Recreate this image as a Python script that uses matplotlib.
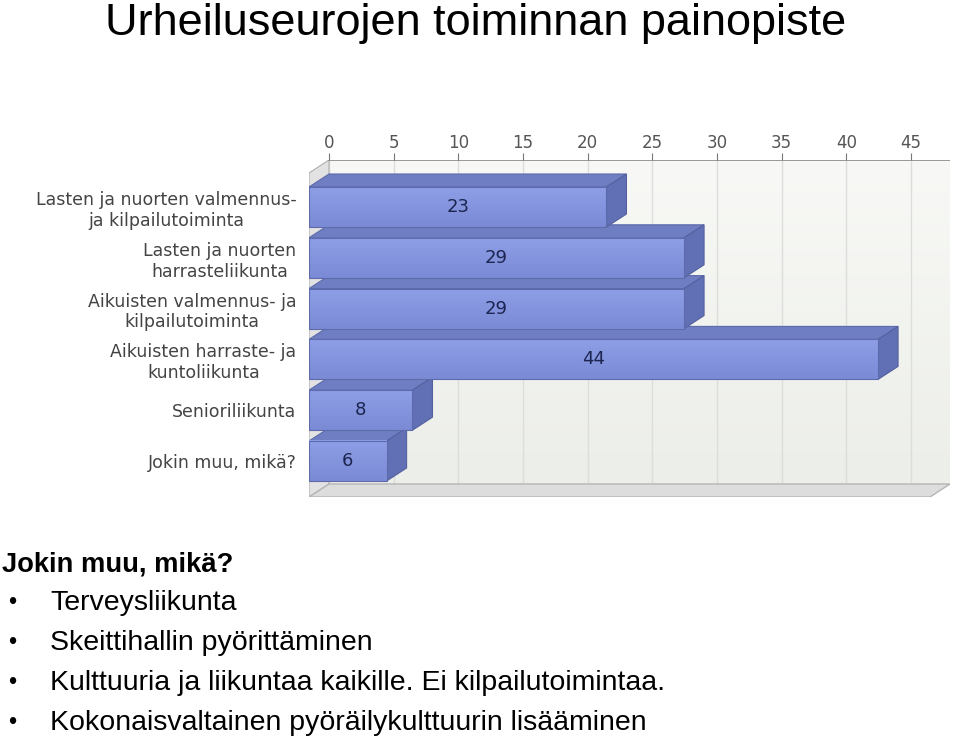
import matplotlib.pyplot as plt
import numpy as np
from matplotlib.patches import Polygon, Rectangle

plt.rcParams['font.family'] = ['Liberation Sans', 'DejaVu Sans']

# data
categories = ["Lasten ja nuorten valmennus-\nja kilpailutoiminta",
              "Lasten ja nuorten\nharrasteliikunta",
              "Aikuisten valmennus- ja\nkilpailutoiminta",
              "Aikuisten harraste- ja\nkuntoliikunta",
              "Senioriliikunta",
              "Jokin muu, mikä?"]
values = [23, 29, 29, 44, 8, 6]
ticks = list(range(0, 50, 5))
others = ["Terveysliikunta",
          "Skeittihallin pyörittäminen",
          "Kulttuuria ja liikuntaa kaikille. Ei kilpailutoimintaa.",
          "Kokonaisvaltainen pyöräilykulttuurin lisääminen"]

W, H = 960, 739
fig = plt.figure(figsize=(W / 100, H / 100), dpi=100)

# axes in pixel terms: front 0 at x=309, right edge 950; top 160, bottom 497
pxu = 582 / 45.0
x0, x1 = 309, 950
y0, y1 = 160, 497
ax = fig.add_axes([x0 / W, 1 - y1 / H, (x1 - x0) / W, (y1 - y0) / H])
xmax = (x1 - x0) / pxu
step = 50.8
ctr0 = 207
ytop = (y0 - ctr0) / step
ybot = (y1 - ctr0) / step
ax.set_xlim(0, xmax)
ax.set_ylim(ybot, ytop)

dx = 20 / pxu
dy = 13 / step
hh = 20 / step
wall_bot = ybot - dy

# back wall with soft gradient
grad = np.linspace(0, 1, 100).reshape(-1, 1)
wall_cmap = plt.matplotlib.colors.LinearSegmentedColormap.from_list('w', ['#f8f9f6', '#eceee9'])
ax.imshow(grad, extent=[dx, xmax, wall_bot, ytop], aspect='auto',
          cmap=wall_cmap, zorder=0, origin='upper')
for t in ticks:
    ax.plot([t + dx, t + dx], [ytop, wall_bot], color='#dcdedb', lw=1, zorder=1)

# left wall
ax.add_patch(Polygon([[0, ytop + dy], [dx, ytop], [dx, wall_bot], [0, ybot]],
                     closed=True, fc='#e2e2e2', ec='#b0b0b0', lw=0.8, zorder=1))
# floor
ax.add_patch(Polygon([[0, ybot], [dx, wall_bot], [xmax, wall_bot], [xmax - dx, ybot]],
                     closed=True, fc='#dddddd', ec='#b5b5b5', lw=1, zorder=1))
ax.plot([dx, xmax], [ytop, ytop], color='#888888', lw=1.2, zorder=2)

# bars, bottom first so upper bars overlap
front_cmap = plt.matplotlib.colors.LinearSegmentedColormap.from_list('b', ['#8e9fe8', '#7a8ad4'])
for i in range(len(values) - 1, -1, -1):
    v = values[i]
    top, bot = i - hh, i + hh
    ax.add_patch(Polygon([[0, top], [dx, top - dy], [v + dx, top - dy], [v, top]],
                         closed=True, fc='#6f7ec2', ec='#5d6aab', lw=0.8, zorder=3))
    ax.add_patch(Polygon([[v, top], [v + dx, top - dy], [v + dx, bot - dy], [v, bot]],
                         closed=True, fc='#6170b4', ec='#55619f', lw=0.8, zorder=3))
    ax.imshow(grad, extent=[0, v, bot, top], aspect='auto', cmap=front_cmap,
              zorder=4, origin='upper')
    ax.add_patch(Rectangle((0, top), v, 2 * hh, fc='none', ec='#5d6aab', lw=0.8, zorder=5))
    ax.text(v / 2, i, str(v), ha='center', va='center', fontsize=13,
            color='#1c2550', family='DejaVu Sans', zorder=6)

ax.set_xlim(0, xmax)
ax.set_ylim(ybot, ytop)
ax.xaxis.tick_top()
ax.set_xticks([t + dx for t in ticks])
ax.set_xticklabels([str(t) for t in ticks], fontsize=12, color='#555555',
                   family='DejaVu Sans')
ax.tick_params(axis='x', length=5, color='#777777', pad=1)
ax.set_yticks(range(len(categories)))
ax.set_yticklabels(categories, fontsize=12.5, color='#444444', family='DejaVu Sans',
                   multialignment='center', linespacing=1.2)
ax.tick_params(axis='y', length=0, pad=9)
for s in ax.spines.values():
    s.set_visible(False)

# title and notes
fig.text(105 / W, 1 - 23 / H, "Urheiluseurojen toiminnan painopiste", fontsize=32.5,
         ha='left', va='center', color='black')
fig.text(2 / W, 1 - 565 / H, "Jokin muu, mikä?", fontsize=19.7, fontweight='bold',
         ha='left', va='center', color='black')
for k, line in enumerate(others):
    yy = 1 - (603 + 40 * k) / H
    fig.text(8 / W, yy, "•", fontsize=17, ha='left', va='center')
    fig.text(50 / W, yy, line, fontsize=20.5, ha='left', va='center')

fig.savefig("out.png", dpi=100)
